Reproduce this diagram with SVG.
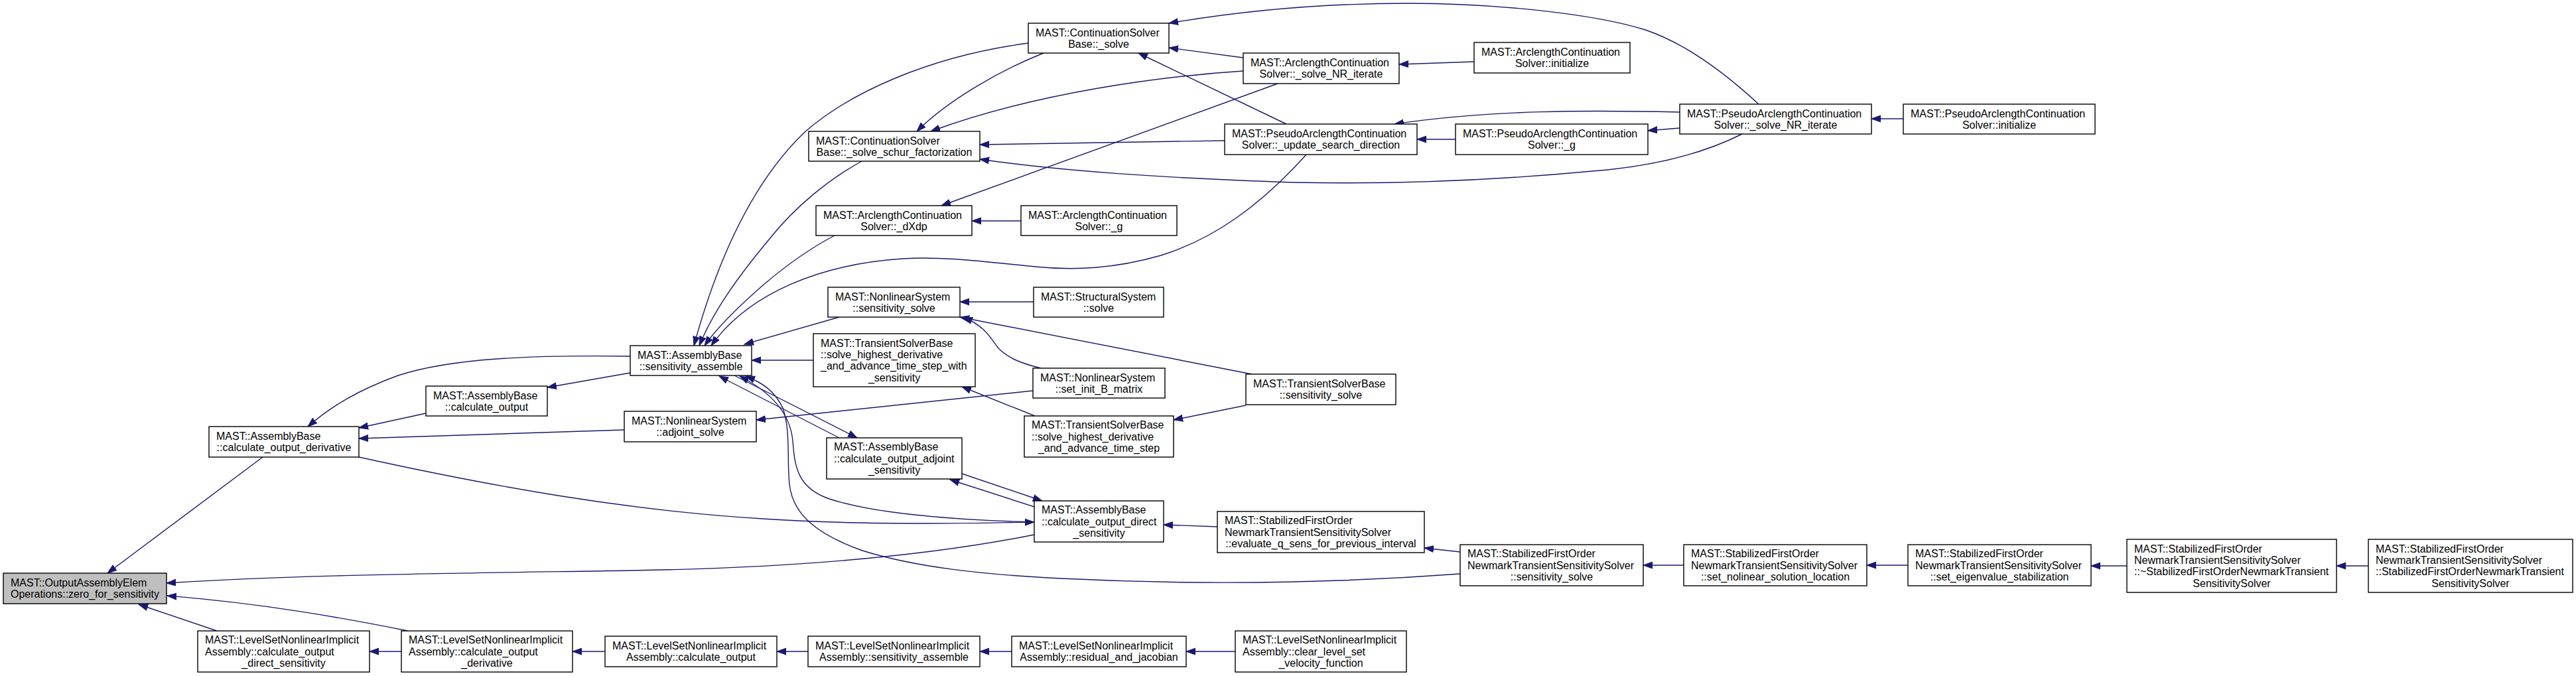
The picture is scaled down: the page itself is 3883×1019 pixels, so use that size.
<svg xmlns="http://www.w3.org/2000/svg" width="3883" height="1019" viewBox="0 0 3883 1019">
<defs>
<style>
.node rect{fill:#ffffff;stroke:#000000;stroke-width:1.4}
.root rect{fill:#bfbfbf}
text{font-family:"Liberation Sans",Arial,Helvetica,sans-serif;font-size:16px;fill:#000000}
.m{text-anchor:middle}
.edges path{fill:none;stroke:#191970;stroke-width:1.4;marker-end:url(#arr)}
</style>
<marker id="arr" markerUnits="userSpaceOnUse" markerWidth="16" markerHeight="12" viewBox="0 -6 16 12" refX="14" refY="0" orient="auto">
<path d="M0,-5 L14,0 L0,5 Z" fill="#191970" stroke="#191970" stroke-width="1"/>
</marker>
</defs>
<rect x="0" y="0" width="3883" height="1019" fill="#ffffff"/>
<g class="edges" id="connectors">
<path d="M396,689 L162,864"/>
<path d="M1559,806 C1400,838 1200,856 950,860 C700,864 450,866 251,879"/>
<path d="M615,951 C520,932 400,910 252,898"/>
<path d="M327,951 L209,911"/>
<path d="M605,982 L557,982"/>
<path d="M912,982 L863,982"/>
<path d="M1218,982 L1171,982"/>
<path d="M1525,982 L1477,982"/>
<path d="M1862,982 L1788,982"/>
<path d="M642,623 L541,645"/>
<path d="M941,648 L541,661"/>
<path d="M950,537 C800,535 680,540 600,566 C540,588 500,612 464,643"/>
<path d="M950,562 L825,584"/>
<path d="M541,689 C750,735 950,770 1150,782 C1300,792 1450,789 1559,787"/>
<path d="M1550,65 C1400,85 1280,140 1212,200 C1150,260 1090,360 1046,521"/>
<path d="M1299,243 C1250,270 1200,310 1160,360 C1110,420 1075,470 1054,521"/>
<path d="M1258,355 C1220,375 1185,400 1150,430 C1110,465 1080,495 1062,521"/>
<path d="M1969,233 C1900,310 1830,360 1750,385 C1680,405 1620,408 1560,402 C1480,394 1420,386 1360,390 C1240,398 1130,440 1072,521"/>
<path d="M1265,478 L1122,519"/>
<path d="M1226,543 L1133,543"/>
<path d="M1573,80 C1510,105 1430,150 1382,198"/>
<path d="M1874,107 C1750,115 1560,140 1403,198"/>
<path d="M1874,87 L1762,72"/>
<path d="M2222,93 L2109,97"/>
<path d="M1939,187 L1716,80"/>
<path d="M1926,126 L1419,310"/>
<path d="M1846,212 L1477,218"/>
<path d="M2626,202 C2560,235 2480,252 2400,258 C2250,272 2100,278 1950,275 C1750,268 1600,258 1477,240"/>
<path d="M2651,157 C2600,110 2540,65 2480,45 C2400,20 2250,5 2123,5 C2000,5 1880,15 1762,35"/>
<path d="M2532,169 C2400,166 2250,165 2102,187"/>
<path d="M2532,193 L2484,197"/>
<path d="M2194,210 L2136,210"/>
<path d="M2869,179 L2821,179"/>
<path d="M1539,333 L1465,333"/>
<path d="M1558,455 L1447,455"/>
<path d="M1887,564 L1447,478"/>
<path d="M1569,555 C1540,548 1520,540 1505,525 C1492,508 1485,492 1452,478"/>
<path d="M1557,589 L1140,633"/>
<path d="M1878,611 L1769,633"/>
<path d="M1560,627 L1450,583"/>
<path d="M1450,714 L1571,755"/>
<path d="M1559,764 L1432,723"/>
<path d="M1265,660 L1084,567"/>
<path d="M1107,566 L1292,660"/>
<path d="M1559,787 C1450,784 1320,775 1250,752 C1200,735 1198,700 1195,665 C1192,630 1170,595 1115,567"/>
<path d="M2201,865 C2000,880 1800,882 1600,872 C1480,866 1380,855 1300,830 C1230,805 1195,775 1190,730 C1186,690 1192,650 1180,615 C1168,590 1150,577 1124,567"/>
<path d="M1835,794 L1754,791"/>
<path d="M2201,832 L2147,826"/>
<path d="M2538,852 L2477,852"/>
<path d="M2876,852 L2814,852"/>
<path d="M3206,853 L3152,853"/>
<path d="M3570,853 L3522,853"/>
</g>
<g class="node root" id="n0"><rect x="5" y="864" width="246" height="46"/><text x="16" y="884">MAST::OutputAssemblyElem</text><text class="m" x="128" y="901.3">Operations::zero_for_sensitivity</text></g>
<g class="node" id="n1"><rect x="315" y="643" width="226" height="46"/><text x="326" y="662.9">MAST::AssemblyBase</text><text class="m" x="428" y="680.3">::calculate_output_derivative</text></g>
<g class="node" id="n2"><rect x="298" y="951" width="259" height="62"/><text x="309" y="970.3">MAST::LevelSetNonlinearImplicit</text><text x="309" y="987.6">Assembly::calculate_output</text><text class="m" x="427.5" y="1004.9">_direct_sensitivity</text></g>
<g class="node" id="n3"><rect x="642" y="582" width="183" height="45"/><text x="653" y="601.5">MAST::AssemblyBase</text><text class="m" x="733.5" y="618.8">::calculate_output</text></g>
<g class="node" id="n4"><rect x="605" y="951" width="258" height="62"/><text x="616" y="970.3">MAST::LevelSetNonlinearImplicit</text><text x="616" y="987.6">Assembly::calculate_output</text><text class="m" x="734" y="1004.9">_derivative</text></g>
<g class="node" id="n5"><rect x="950" y="521" width="183" height="45"/><text x="961" y="540.5">MAST::AssemblyBase</text><text class="m" x="1041.5" y="557.8">::sensitivity_assemble</text></g>
<g class="node" id="n6"><rect x="941" y="620" width="199" height="46"/><text x="952" y="640">MAST::NonlinearSystem</text><text class="m" x="1040.5" y="657.3">::adjoint_solve</text></g>
<g class="node" id="n7"><rect x="912" y="959" width="259" height="46"/><text x="923" y="979">MAST::LevelSetNonlinearImplicit</text><text class="m" x="1041.5" y="996.3">Assembly::calculate_output</text></g>
<g class="node" id="n8"><rect x="1219" y="198" width="258" height="45"/><text x="1230" y="217.5">MAST::ContinuationSolver</text><text class="m" x="1348" y="234.8">Base::_solve_schur_factorization</text></g>
<g class="node" id="n9"><rect x="1230" y="310" width="235" height="45"/><text x="1241" y="329.5">MAST::ArclengthContinuation</text><text class="m" x="1347.5" y="346.8">Solver::_dXdp</text></g>
<g class="node" id="n10"><rect x="1248" y="433" width="199" height="45"/><text x="1259" y="452.5">MAST::NonlinearSystem</text><text class="m" x="1347.5" y="469.8">::sensitivity_solve</text></g>
<g class="node" id="n11"><rect x="1226" y="503" width="244" height="80"/><text x="1237" y="522.7">MAST::TransientSolverBase</text><text x="1237" y="540">::solve_highest_derivative</text><text x="1237" y="557.3">_and_advance_time_step_with</text><text class="m" x="1348" y="574.6">_sensitivity</text></g>
<g class="node" id="n12"><rect x="1246" y="660" width="204" height="62"/><text x="1257" y="679.3">MAST::AssemblyBase</text><text x="1257" y="696.6">::calculate_output_adjoint</text><text class="m" x="1348" y="713.9">_sensitivity</text></g>
<g class="node" id="n13"><rect x="1218" y="959" width="259" height="46"/><text x="1229" y="979">MAST::LevelSetNonlinearImplicit</text><text class="m" x="1347.5" y="996.3">Assembly::sensitivity_assemble</text></g>
<g class="node" id="n14"><rect x="1550" y="35" width="212" height="45"/><text x="1561" y="54.5">MAST::ContinuationSolver</text><text class="m" x="1656" y="71.8">Base::_solve</text></g>
<g class="node" id="n15"><rect x="1539" y="310" width="235" height="45"/><text x="1550" y="329.5">MAST::ArclengthContinuation</text><text class="m" x="1656.5" y="346.8">Solver::_g</text></g>
<g class="node" id="n16"><rect x="1558" y="433" width="196" height="45"/><text x="1569" y="452.5">MAST::StructuralSystem</text><text class="m" x="1656" y="469.8">::solve</text></g>
<g class="node" id="n17"><rect x="1557" y="555" width="199" height="45"/><text x="1568" y="574.5">MAST::NonlinearSystem</text><text class="m" x="1656.5" y="591.8">::set_init_B_matrix</text></g>
<g class="node" id="n18"><rect x="1544" y="627" width="225" height="62"/><text x="1555" y="646.3">MAST::TransientSolverBase</text><text x="1555" y="663.6">::solve_highest_derivative</text><text class="m" x="1656.5" y="680.9">_and_advance_time_step</text></g>
<g class="node" id="n19"><rect x="1559" y="755" width="195" height="62"/><text x="1570" y="774.3">MAST::AssemblyBase</text><text x="1570" y="791.6">::calculate_output_direct</text><text class="m" x="1656.5" y="808.9">_sensitivity</text></g>
<g class="node" id="n20"><rect x="1525" y="959" width="263" height="46"/><text x="1536" y="979">MAST::LevelSetNonlinearImplicit</text><text class="m" x="1656.5" y="996.3">Assembly::residual_and_jacobian</text></g>
<g class="node" id="n21"><rect x="1874" y="80" width="235" height="46"/><text x="1885" y="100">MAST::ArclengthContinuation</text><text class="m" x="1991.5" y="117.3">Solver::_solve_NR_iterate</text></g>
<g class="node" id="n22"><rect x="1846" y="187" width="290" height="46"/><text x="1857" y="207">MAST::PseudoArclengthContinuation</text><text class="m" x="1991" y="224.3">Solver::_update_search_direction</text></g>
<g class="node" id="n23"><rect x="1878" y="564" width="226" height="46"/><text x="1889" y="584">MAST::TransientSolverBase</text><text class="m" x="1991" y="601.3">::sensitivity_solve</text></g>
<g class="node" id="n24"><rect x="1835" y="771" width="312" height="62"/><text x="1846" y="790.3">MAST::StabilizedFirstOrder</text><text x="1846" y="807.6">NewmarkTransientSensitivitySolver</text><text class="m" x="1991" y="824.9">::evaluate_q_sens_for_previous_interval</text></g>
<g class="node" id="n25"><rect x="1862" y="951" width="258" height="62"/><text x="1873" y="970.3">MAST::LevelSetNonlinearImplicit</text><text x="1873" y="987.6">Assembly::clear_level_set</text><text class="m" x="1991" y="1004.9">_velocity_function</text></g>
<g class="node" id="n26"><rect x="2222" y="64" width="235" height="46"/><text x="2233" y="84">MAST::ArclengthContinuation</text><text class="m" x="2339.5" y="101.3">Solver::initialize</text></g>
<g class="node" id="n27"><rect x="2194" y="187" width="290" height="46"/><text x="2205" y="207">MAST::PseudoArclengthContinuation</text><text class="m" x="2339" y="224.3">Solver::_g</text></g>
<g class="node" id="n28"><rect x="2201" y="821" width="276" height="62"/><text x="2212" y="840.3">MAST::StabilizedFirstOrder</text><text x="2212" y="857.6">NewmarkTransientSensitivitySolver</text><text class="m" x="2339" y="874.9">::sensitivity_solve</text></g>
<g class="node" id="n29"><rect x="2532" y="157" width="289" height="45"/><text x="2543" y="176.5">MAST::PseudoArclengthContinuation</text><text class="m" x="2676.5" y="193.8">Solver::_solve_NR_iterate</text></g>
<g class="node" id="n30"><rect x="2538" y="821" width="276" height="62"/><text x="2549" y="840.3">MAST::StabilizedFirstOrder</text><text x="2549" y="857.6">NewmarkTransientSensitivitySolver</text><text class="m" x="2676" y="874.9">::set_nolinear_solution_location</text></g>
<g class="node" id="n31"><rect x="2869" y="157" width="289" height="45"/><text x="2880" y="176.5">MAST::PseudoArclengthContinuation</text><text class="m" x="3013.5" y="193.8">Solver::initialize</text></g>
<g class="node" id="n32"><rect x="2876" y="821" width="276" height="62"/><text x="2887" y="840.3">MAST::StabilizedFirstOrder</text><text x="2887" y="857.6">NewmarkTransientSensitivitySolver</text><text class="m" x="3014" y="874.9">::set_eigenvalue_stabilization</text></g>
<g class="node" id="n33"><rect x="3206" y="813" width="316" height="80"/><text x="3217" y="832.7">MAST::StabilizedFirstOrder</text><text x="3217" y="850">NewmarkTransientSensitivitySolver</text><text x="3217" y="867.3">::~StabilizedFirstOrderNewmarkTransient</text><text class="m" x="3364" y="884.6">SensitivitySolver</text></g>
<g class="node" id="n34"><rect x="3570" y="813" width="308" height="80"/><text x="3581" y="832.7">MAST::StabilizedFirstOrder</text><text x="3581" y="850">NewmarkTransientSensitivitySolver</text><text x="3581" y="867.3">::StabilizedFirstOrderNewmarkTransient</text><text class="m" x="3724" y="884.6">SensitivitySolver</text></g>
</svg>
